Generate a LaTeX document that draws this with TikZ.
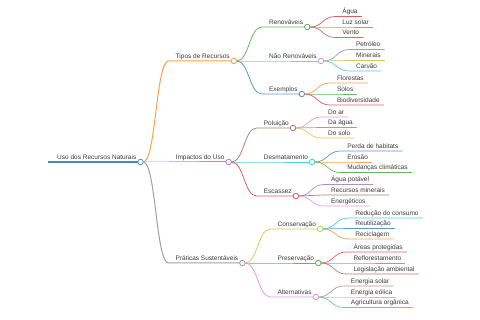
\documentclass[tikz,border=0pt]{standalone}
\usepackage{fontspec}
\setmainfont{Liberation Sans}
\usetikzlibrary{positioning}

\definecolor{c0}{HTML}{1F77B4}
\definecolor{c1}{HTML}{FF7F0E}
\definecolor{c2}{HTML}{2CA02C}
\definecolor{c3}{HTML}{D62728}
\definecolor{c4}{HTML}{9467BD}
\definecolor{c5}{HTML}{8C564B}
\definecolor{c6}{HTML}{E377C2}
\definecolor{c7}{HTML}{7F7F7F}
\definecolor{c8}{HTML}{BCBD22}
\definecolor{c9}{HTML}{17BECF}
\definecolor{txt}{HTML}{3A3A3A}

% #1 colour, #2 line width, #3 name, #4 parent, #5 y of the underline, #6 text
\newcommand{\mmitem}[6]{%
  \coordinate[xshift=28pt] (#3-s) at (#4-o |- 0,#5);
  \node[lbl, xshift=7pt, yshift=2.5pt] (#3) at (#3-s) {#6};
  \coordinate[xshift=4pt] (#3-o) at (#3.base east |- #3-s);
  \draw[#1!75!white, line width=#2] ([xshift=2.75pt]#4-o) .. controls +(12.6,0) and +(-12.6,0) .. (#3-s) -- (#3-o);
}
\newcommand{\mmdot}[2]{\node[dot, draw=#2!80!white] (#1-c) at (#1-o) {};}

\begin{document}
\begin{tikzpicture}[
    x=1pt, y=-1pt,
    lbl/.style={font=\fontsize{6.5}{8}\selectfont, text=txt, inner sep=0pt,
                anchor=base west},
    dot/.style={circle, fill=white, minimum size=5.5pt, inner sep=0pt,
                line width=0.8pt}
  ]
  \useasboundingbox (0,0) rectangle (480,320);

  % Root
  \coordinate (root-s) at (48,162);
  \node[lbl, xshift=9pt, yshift=2.5pt] (root) at (root-s) {Uso dos Recursos Naturais};
  \coordinate[xshift=4pt] (root-o) at (root.base east |- root-s);
  \draw[c0!85!white, line width=1.5pt] (root-s) -- (root-o);
  \mmdot{root}{c0}

  % Tipos de Recursos
  \mmitem{c1}{1pt}{tipos}{root}{61}{Tipos de Recursos}
  \mmdot{tipos}{c1}
  \mmitem{c2}{0.8pt}{renov}{tipos}{27}{Renováveis}
  \mmdot{renov}{c2}
  \mmitem{c3}{0.7pt}{agua}{renov}{16.5}{Água}
  \mmitem{c4}{0.7pt}{luz}{renov}{27}{Luz solar}
  \mmitem{c5}{0.7pt}{vento}{renov}{37.5}{Vento}
  \mmitem{c6}{0.8pt}{naorenov}{tipos}{61}{Não Renováveis}
  \mmdot{naorenov}{c6}
  \mmitem{c7}{0.7pt}{petroleo}{naorenov}{49.5}{Petróleo}
  \mmitem{c8}{0.7pt}{minerais}{naorenov}{60.5}{Minerais}
  \mmitem{c9}{0.7pt}{carvao}{naorenov}{71}{Carvão}
  \mmitem{c0}{0.8pt}{exemplos}{tipos}{94}{Exemplos}
  \mmdot{exemplos}{c0}
  \mmitem{c1}{0.7pt}{florestas}{exemplos}{83}{Florestas}
  \mmitem{c2}{0.7pt}{solos}{exemplos}{94}{Solos}
  \mmitem{c3}{0.7pt}{biodiv}{exemplos}{105}{Biodiversidade}

  % Impactos do Uso
  \mmitem{c4}{1pt}{impactos}{root}{162}{Impactos do Uso}
  \mmdot{impactos}{c4}
  \mmitem{c5}{0.8pt}{poluicao}{impactos}{128}{Poluição}
  \mmdot{poluicao}{c5}
  \mmitem{c6}{0.7pt}{doar}{poluicao}{117}{Do ar}
  \mmitem{c7}{0.7pt}{daagua}{poluicao}{127.5}{Da água}
  \mmitem{c8}{0.7pt}{dosolo}{poluicao}{138}{Do solo}
  \mmitem{c9}{0.8pt}{desmat}{impactos}{162}{Desmatamento}
  \mmdot{desmat}{c9}
  \mmitem{c0}{0.7pt}{habitats}{desmat}{151}{Perda de habitats}
  \mmitem{c1}{0.7pt}{erosao}{desmat}{162}{Erosão}
  \mmitem{c2}{0.7pt}{clima}{desmat}{172.5}{Mudanças climáticas}
  \mmitem{c3}{0.8pt}{escassez}{impactos}{196}{Escassez}
  \mmdot{escassez}{c3}
  \mmitem{c4}{0.7pt}{potavel}{escassez}{184.5}{Água potável}
  \mmitem{c5}{0.7pt}{recmin}{escassez}{195}{Recursos minerais}
  \mmitem{c6}{0.7pt}{energ}{escassez}{206}{Energéticos}

  % Práticas Sustentáveis
  \mmitem{c7}{1pt}{praticas}{root}{263}{Práticas Sustentáveis}
  \mmdot{praticas}{c7}
  \mmitem{c8}{0.8pt}{conserv}{praticas}{229}{Conservação}
  \mmdot{conserv}{c8}
  \mmitem{c9}{0.7pt}{reducao}{conserv}{218}{Redução do consumo}
  \mmitem{c0}{0.7pt}{reutil}{conserv}{228.5}{Reutilização}
  \mmitem{c1}{0.7pt}{recicl}{conserv}{239}{Reciclagem}
  \mmitem{c2}{0.8pt}{preserv}{praticas}{263}{Preservação}
  \mmdot{preserv}{c2}
  \mmitem{c3}{0.7pt}{areas}{preserv}{252}{Áreas protegidas}
  \mmitem{c4}{0.7pt}{reflor}{preserv}{263}{Reflorestamento}
  \mmitem{c5}{0.7pt}{legis}{preserv}{274}{Legislação ambiental}
  \mmitem{c6}{0.8pt}{altern}{praticas}{297}{Alternativas}
  \mmdot{altern}{c6}
  \mmitem{c7}{0.7pt}{esolar}{altern}{286}{Energia solar}
  \mmitem{c8}{0.7pt}{eeolica}{altern}{297}{Energia eólica}
  \mmitem{c9}{0.7pt}{agric}{altern}{307.5}{Agricultura orgânica}
\end{tikzpicture}
\end{document}
